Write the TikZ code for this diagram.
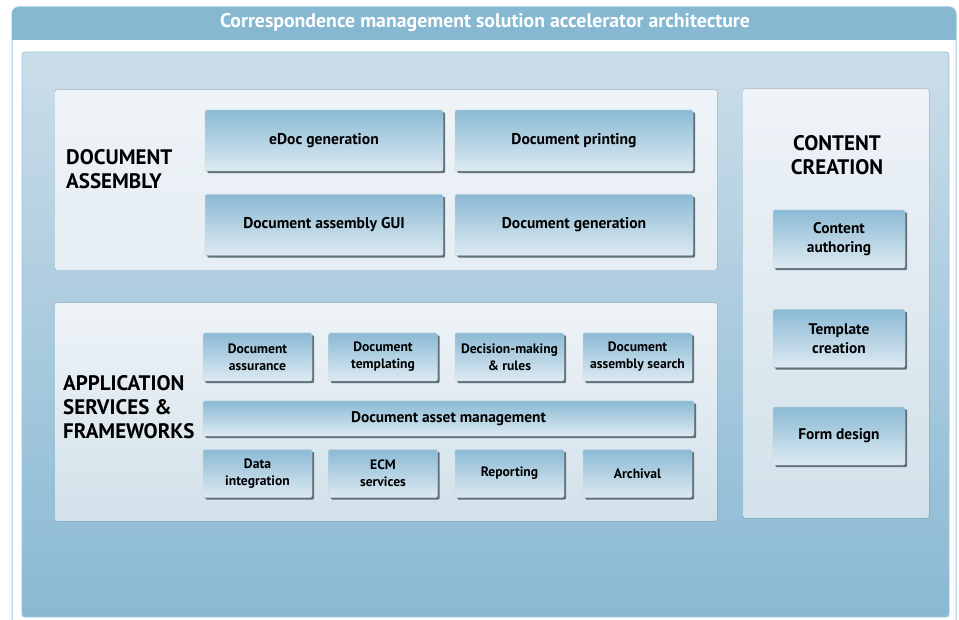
\documentclass[tikz,border=0pt]{standalone}
\usepackage{fontspec}
\setmainfont{PT Sans}
\usetikzlibrary{shadows}
\definecolor{hdr}{HTML}{86B8D2}
\definecolor{frameline}{HTML}{9CC6DC}
\definecolor{paneltop}{HTML}{CBDDE9}
\definecolor{panelbot}{HTML}{89B9D3}
\definecolor{secttop}{HTML}{EEF3F7}
\definecolor{sectbot}{HTML}{D2E1EA}
\definecolor{boxtop}{HTML}{8BBAD4}
\definecolor{boxbot}{HTML}{DDEAF2}
\definecolor{boxshadow}{HTML}{52646F}
\tikzset{
  box/.style={rounded corners=2pt, top color=boxtop, bottom color=boxbot,
    draw=boxtop!80!black!40, line width=0.4pt, align=center, inner sep=0pt,
    font=\bfseries,
    drop shadow={shadow xshift=2.2pt, shadow yshift=-2.2pt, fill=boxshadow, opacity=0.9}},
  bigbox/.style={box, minimum width=238pt, minimum height=61pt, font=\fontsize{15.6}{18}\selectfont\bfseries},
  smallbox/.style={box, minimum width=109pt, minimum height=48pt, font=\fontsize{13.6}{17}\selectfont\bfseries},
  widebox/.style={box, minimum width=491pt, minimum height=35pt, font=\fontsize{15.4}{18}\selectfont\bfseries},
  ccbox/.style={box, minimum width=132pt, minimum height=58pt, font=\fontsize{15.4}{19.5}\selectfont\bfseries},
  sectlabel/.style={align=left, anchor=west, inner sep=0pt, font=\fontsize{21}{24}\selectfont\bfseries},
}
\begin{document}
\begin{tikzpicture}[x=1pt,y=-1pt]
\useasboundingbox (0,0) rectangle (959,620);
% outer frame with title bar
\fill[white] (0,0) rectangle (959,620);
\draw[frameline, line width=1pt, fill=white, rounded corners=7pt] (12,7) rectangle (956,640);
\fill[hdr, rounded corners=7pt] (12,7) -- (12,40) -- (956,40) -- (956,7) -- cycle;
\fill[hdr] (12,20) rectangle (956,40);
\node[white, font=\fontsize{19.8}{22}\selectfont\bfseries] (title) at (485,23) {Correspondence management solution accelerator architecture};
% main panel
\draw[frameline, line width=0.8pt, top color=paneltop, bottom color=panelbot, rounded corners=3pt] (22,52) rectangle (949,617);
% section panels
\fill[rounded corners=2pt, top color=secttop, bottom color=secttop!70!sectbot] (55,90) rectangle (717,270);
\fill[rounded corners=2pt, top color=secttop, bottom color=sectbot] (55,303) rectangle (717,521);
\fill[rounded corners=2pt, top color=secttop, bottom color=sectbot] (743,89) rectangle (929,518);
% section titles
\node[sectlabel] (da) at (66,169) {DOCUMENT\\ASSEMBLY};
\node[sectlabel] (as) at (63,407) {APPLICATION\\SERVICES \&\\FRAMEWORKS};
\node[sectlabel, anchor=center, align=center] (cc) at (837,155) {CONTENT\\CREATION};
% document assembly
\node[bigbox] (edoc) at (324,140.5) {eDoc generation};
\node[bigbox] (print) at (574,140.5) {Document printing};
\node[bigbox] (gui) at (324,225) {Document assembly GUI};
\node[bigbox] (gen) at (574,225) {Document generation};
% application services and frameworks
\node[smallbox] (assur) at (257.5,357) {Document\\assurance};
\node[smallbox] (templ) at (383,357) {Document\\templating};
\node[smallbox] (rules) at (509.5,357) {Decision-making\\\& rules};
\node[smallbox] (search) at (637.5,357) {Document\\assembly search};
\node[widebox] (dam) at (448.5,418.5) {Document asset management};
\node[smallbox] (data) at (257.5,473.5) {Data\\integration};
\node[smallbox] (ecm) at (383,473.5) {ECM\\services};
\node[smallbox] (rep) at (509.5,473.5) {Reporting};
\node[smallbox] (arch) at (637.5,473.5) {Archival};
% content creation
\node[ccbox] (auth) at (839,239) {Content\\authoring};
\node[ccbox] (tmpl) at (839,338.5) {Template\\creation};
\node[ccbox] (form) at (839,436) {Form design};
\end{tikzpicture}
\end{document}
